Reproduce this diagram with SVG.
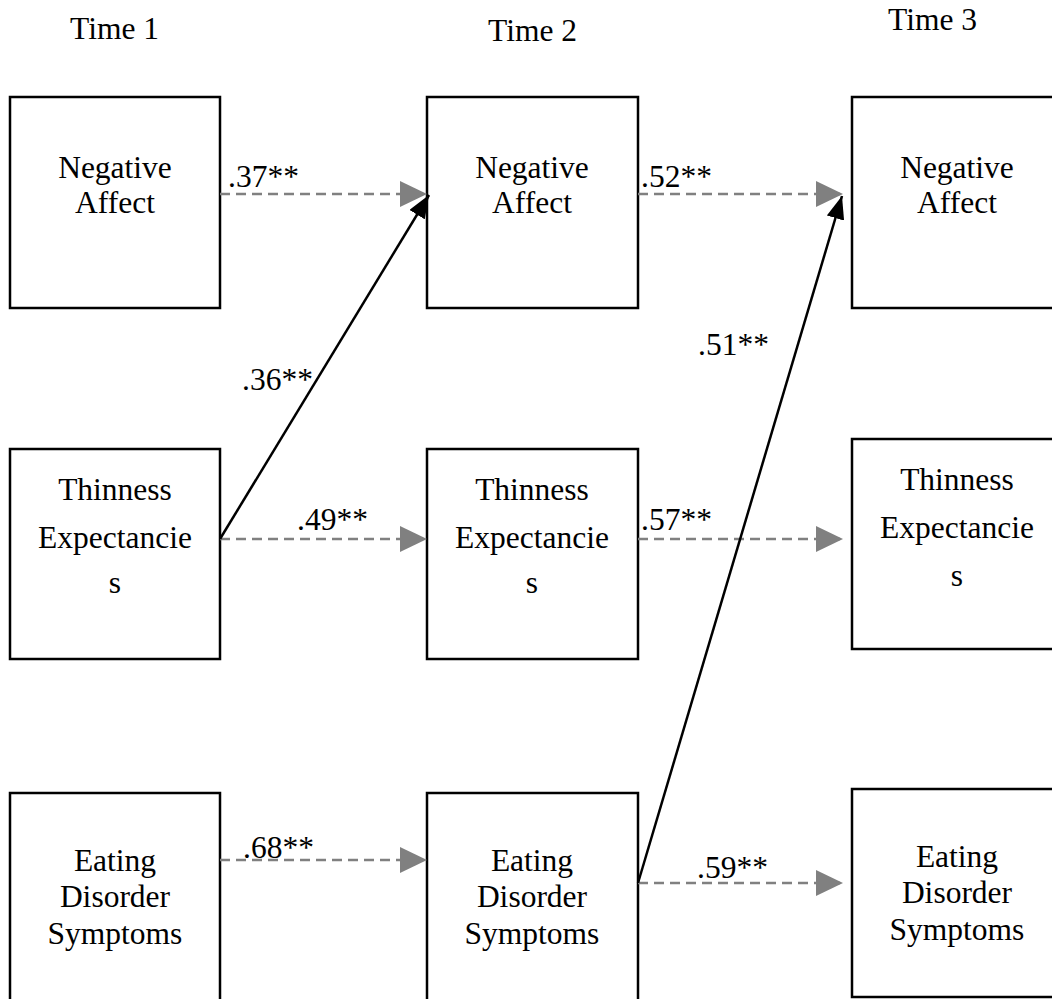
<svg xmlns="http://www.w3.org/2000/svg" width="1052" height="999" viewBox="0 0 1052 999">
  <style>
    .box { fill: #fff; stroke: #000; stroke-width: 2.5; }
    .lbl { text-anchor: middle; }
    .dash { stroke: #808080; stroke-width: 2.5; stroke-dasharray: 10 6; fill: none; }
    .solid { stroke: #000; stroke-width: 2.5; fill: none; }
  </style>
  <defs>
    <marker id="grayHead" markerUnits="userSpaceOnUse" markerWidth="28" markerHeight="26" refX="27" refY="13" orient="auto">
      <path d="M0,0 L27,13 L0,26 Z" fill="#808080"/>
    </marker>
    <marker id="blackHead" markerUnits="userSpaceOnUse" markerWidth="24" markerHeight="18" refX="23" refY="9" orient="auto">
      <path d="M0,0 L23,9 L0,18 Z" fill="#000"/>
    </marker>
  </defs>
  <rect width="1052" height="999" fill="#fff"/>

  <g font-family="Liberation Serif, Times New Roman, serif" font-size="31.5" fill="#000">
  <!-- column headings -->
  <g id="headings">
    <text x="70" y="39">Time 1</text>
    <text x="488" y="41">Time 2</text>
    <text x="888" y="30">Time 3</text>
  </g>

  <!-- Time 1 -->
  <g id="na1">
    <rect class="box" x="10" y="97" width="210" height="211"/>
    <text class="lbl" x="115" y="178">Negative</text>
    <text class="lbl" x="115" y="213">Affect</text>
  </g>
  <g id="te1">
    <rect class="box" x="10" y="449" width="210" height="210"/>
    <text class="lbl" x="115" y="500">Thinness</text>
    <text class="lbl" x="115" y="548">Expectancie</text>
    <text class="lbl" x="115" y="593">s</text>
  </g>
  <g id="eds1">
    <rect class="box" x="10" y="793" width="210" height="220"/>
    <text class="lbl" x="115" y="871">Eating</text>
    <text class="lbl" x="115" y="907">Disorder</text>
    <text class="lbl" x="115" y="944">Symptoms</text>
  </g>

  <!-- Time 2 -->
  <g id="na2">
    <rect class="box" x="427" y="97" width="211" height="211"/>
    <text class="lbl" x="532" y="178">Negative</text>
    <text class="lbl" x="532" y="213">Affect</text>
  </g>
  <g id="te2">
    <rect class="box" x="427" y="449" width="211" height="210"/>
    <text class="lbl" x="532" y="500">Thinness</text>
    <text class="lbl" x="532" y="548">Expectancie</text>
    <text class="lbl" x="532" y="593">s</text>
  </g>
  <g id="eds2">
    <rect class="box" x="427" y="793" width="211" height="220"/>
    <text class="lbl" x="532" y="871">Eating</text>
    <text class="lbl" x="532" y="907">Disorder</text>
    <text class="lbl" x="532" y="944">Symptoms</text>
  </g>

  <!-- Time 3 -->
  <g id="na3">
    <rect class="box" x="852" y="97" width="211" height="211"/>
    <text class="lbl" x="957" y="178">Negative</text>
    <text class="lbl" x="957" y="213">Affect</text>
  </g>
  <g id="te3">
    <rect class="box" x="852" y="439" width="211" height="210"/>
    <text class="lbl" x="957" y="490">Thinness</text>
    <text class="lbl" x="957" y="538">Expectancie</text>
    <text class="lbl" x="957" y="586">s</text>
  </g>
  <g id="eds3">
    <rect class="box" x="852" y="789" width="211" height="208"/>
    <text class="lbl" x="957" y="867">Eating</text>
    <text class="lbl" x="957" y="903">Disorder</text>
    <text class="lbl" x="957" y="940">Symptoms</text>
  </g>

  <!-- paths -->
  <g id="connectors">
    <line class="dash" x1="220" y1="194" x2="427" y2="194" marker-end="url(#grayHead)"/>
    <line class="dash" x1="638" y1="194" x2="843" y2="194" marker-end="url(#grayHead)"/>
    <line class="dash" x1="220" y1="539" x2="427" y2="539" marker-end="url(#grayHead)"/>
    <line class="dash" x1="638" y1="539" x2="843" y2="539" marker-end="url(#grayHead)"/>
    <line class="dash" x1="220" y1="860" x2="427" y2="860" marker-end="url(#grayHead)"/>
    <line class="dash" x1="638" y1="883" x2="843" y2="883" marker-end="url(#grayHead)"/>
    <line class="solid" x1="220" y1="539" x2="429" y2="195" marker-end="url(#blackHead)"/>
    <line class="solid" x1="638" y1="883" x2="842" y2="196" marker-end="url(#blackHead)"/>
  </g>

  <!-- coefficients -->
  <g id="coefficients">
    <text x="228" y="187">.37**</text>
    <text x="641" y="187">.52**</text>
    <text x="242" y="390">.36**</text>
    <text x="297" y="530">.49**</text>
    <text x="641" y="530">.57**</text>
    <text x="698" y="355">.51**</text>
    <text x="243" y="858">.68**</text>
    <text x="697" y="878">.59**</text>
  </g>
  </g>
</svg>
